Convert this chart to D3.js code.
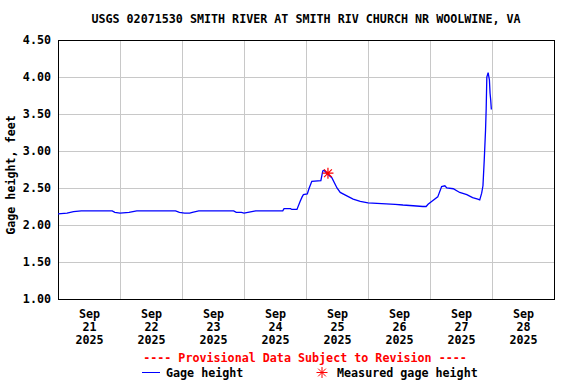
<!DOCTYPE html>
<html>
<head>
<meta charset="utf-8">
<script src="https://cdn.jsdelivr.net/npm/d3@7"></script>
<style>
  body { margin: 0; background: #fff; }
  text { font-family: "DejaVu Sans Mono", monospace; font-weight: bold; font-size: 11.7px; }
</style>
</head>
<body>
<div id="chart"></div>
<script>
// data
const title = 'USGS 02071530 SMITH RIVER AT SMITH RIV CHURCH NR WOOLWINE, VA'
const times = [
  '2025-09-21 00:00', '2025-09-21 03:30', '2025-09-21 06:00', '2025-09-21 09:00', '2025-09-21 21:00',
  '2025-09-21 22:00', '2025-09-22 00:00', '2025-09-22 03:30', '2025-09-22 06:30', '2025-09-22 21:30',
  '2025-09-22 23:00', '2025-09-23 01:00', '2025-09-23 03:00', '2025-09-23 04:00', '2025-09-23 06:30',
  '2025-09-23 20:00', '2025-09-23 21:00', '2025-09-23 23:00', '2025-09-24 00:00', '2025-09-24 01:30',
  '2025-09-24 04:30', '2025-09-24 15:00', '2025-09-24 15:30', '2025-09-24 18:00', '2025-09-24 18:30',
  '2025-09-24 20:30', '2025-09-24 21:45', '2025-09-24 22:30', '2025-09-24 23:00', '2025-09-25 00:30',
  '2025-09-25 01:15', '2025-09-25 02:15', '2025-09-25 05:45', '2025-09-25 06:30', '2025-09-25 07:00',
  '2025-09-25 08:00', '2025-09-25 10:00', '2025-09-25 12:00', '2025-09-25 13:15', '2025-09-25 16:00',
  '2025-09-25 18:15', '2025-09-25 21:00', '2025-09-26 00:00', '2025-09-26 10:30', '2025-09-26 13:30',
  '2025-09-26 17:30', '2025-09-26 21:15', '2025-09-26 22:30', '2025-09-26 23:15', '2025-09-27 00:45',
  '2025-09-27 03:00', '2025-09-27 04:30', '2025-09-27 05:45', '2025-09-27 06:30', '2025-09-27 09:00',
  '2025-09-27 11:30', '2025-09-27 14:15', '2025-09-27 16:30', '2025-09-27 18:30', '2025-09-27 19:15',
  '2025-09-27 20:00', '2025-09-27 20:30', '2025-09-27 21:00', '2025-09-27 21:30', '2025-09-27 21:45',
  '2025-09-27 22:00', '2025-09-27 22:30', '2025-09-27 23:00', '2025-09-27 23:15', '2025-09-27 23:30',
  '2025-09-27 23:45'
]
const gage = [
  2.15, 2.16, 2.18, 2.19, 2.19,
  2.17, 2.16, 2.17, 2.19, 2.19,
  2.17, 2.16, 2.16, 2.17, 2.19,
  2.19, 2.17, 2.17, 2.16, 2.17,
  2.19, 2.19, 2.22, 2.22, 2.21,
  2.21, 2.32, 2.38, 2.41, 2.42,
  2.50, 2.59, 2.60, 2.73, 2.74,
  2.70, 2.64, 2.50, 2.44, 2.39,
  2.35, 2.32, 2.30, 2.28, 2.27,
  2.26, 2.25, 2.25, 2.28, 2.32,
  2.38, 2.52, 2.53, 2.50, 2.49,
  2.44, 2.41, 2.37, 2.35, 2.34,
  2.43, 2.53, 2.88, 3.28, 3.57,
  4.00, 4.06, 3.96, 3.78, 3.69,
  3.56
]
const measuredTimes = ['2025-09-25 08:30']
const measuredValues = [2.70]
const dayTicks = ['2025-09-21', '2025-09-22', '2025-09-23', '2025-09-24', '2025-09-25', '2025-09-26', '2025-09-27', '2025-09-28']
const yTicks = [1.0, 1.5, 2.0, 2.5, 3.0, 3.5, 4.0, 4.5]

// const
const width = 576
const height = 384
const margin = { top: 40, right: 22, bottom: 85, left: 58 }
const parseTime = d3.utcParse('%Y-%m-%d %H:%M')
const parseDay = d3.utcParse('%Y-%m-%d')

const series = times.map((t, i) => ({ t: parseTime(t), v: gage[i] }))
const measured = measuredTimes.map((t, i) => ({ t: parseTime(t), v: measuredValues[i] }))

// svg
const svg = d3.select('#chart')
  .append('svg')
  .attr('width', width)
  .attr('height', height)

const x = d3.scaleUtc()
  .domain([parseDay('2025-09-21'), parseDay('2025-09-29')])
  .range([margin.left, width - margin.right])
const y = d3.scaleLinear()
  .domain([1, 4.5])
  .range([height - margin.bottom, margin.top])

// grid
svg.append('g')
  .attr('transform', `translate(0, ${height - margin.bottom})`)
  .call(d3.axisBottom(x).tickValues(d3.utcDay.range(parseDay('2025-09-22'), parseDay('2025-09-29')))
    .tickSize(-(height - margin.top - margin.bottom)).tickFormat(''))
  .call(g => g.select('.domain').remove())
  .call(g => g.selectAll('line').attr('stroke', '#c8c8c8').attr('shape-rendering', 'crispEdges'))
svg.append('g')
  .attr('transform', `translate(${margin.left}, 0)`)
  .call(d3.axisLeft(y).tickValues(yTicks).tickSize(-(width - margin.left - margin.right)).tickFormat(''))
  .call(g => g.select('.domain').remove())
  .call(g => g.selectAll('line').attr('stroke', '#c8c8c8').attr('shape-rendering', 'crispEdges'))

// frame
svg.append('rect')
  .attr('x', margin.left)
  .attr('y', margin.top)
  .attr('width', width - margin.left - margin.right)
  .attr('height', height - margin.top - margin.bottom)
  .attr('fill', 'none')
  .attr('stroke', '#000')
  .attr('shape-rendering', 'crispEdges')

// y axis labels
svg.append('g')
  .attr('transform', `translate(${margin.left - 7}, 0)`)
  .call(d3.axisLeft(y).tickValues(yTicks).tickSize(0).tickPadding(0).tickFormat(d3.format('.2f')))
  .call(g => g.select('.domain').remove())
  .call(g => g.selectAll('text').attr('fill', '#000').style('font-size', '11.7px')
    .style('font-family', '"DejaVu Sans Mono", monospace').style('font-weight', 'bold'))

// x axis labels (three lines)
const xl = svg.append('g')
  .attr('transform', `translate(0, ${height - margin.bottom})`)
  .call(d3.axisBottom(x).tickValues(dayTicks.map(d => d3.utcHour.offset(parseDay(d), 12))).tickSize(0).tickFormat(''))
  .call(g => g.select('.domain').remove())
xl.selectAll('.tick text')
  .attr('y', 0).attr('dy', null)
  .each(function(d) {
    const t = d3.select(this)
    ;[d3.utcFormat('%b')(d), d3.utcFormat('%d')(d), d3.utcFormat('%Y')(d)].forEach((s, i) => {
      t.append('tspan').attr('x', 0).attr('y', 19 + i * 13).text(s)
    })
  })
  .attr('fill', '#000').style('font-size', '11.7px')
  .style('font-family', '"DejaVu Sans Mono", monospace').style('font-weight', 'bold')

// title
svg.append('text')
  .attr('x', (margin.left + width - margin.right) / 2)
  .attr('y', 23)
  .attr('text-anchor', 'middle')
  .text(title)

// y title
svg.append('text')
  .attr('transform', `translate(15, 175) rotate(-90)`)
  .attr('text-anchor', 'middle')
  .text('Gage height, feet')

// line
const line = d3.line().x(d => x(d.t)).y(d => y(d.v))
svg.append('path')
  .datum(series)
  .attr('fill', 'none')
  .attr('stroke', '#0000ff')
  .attr('stroke-width', 1.3)
  .attr('d', line)

// star marker
function star(r) {
  const p = d3.path()
  for (let k = 0; k < 4; k++) {
    const a = k * Math.PI / 4
    p.moveTo(-r * Math.cos(a), -r * Math.sin(a))
    p.lineTo(r * Math.cos(a), r * Math.sin(a))
  }
  return p.toString()
}
svg.selectAll('.meas')
  .data(measured)
  .join('path')
  .attr('class', 'meas')
  .attr('transform', d => `translate(${x(d.t)}, ${y(d.v)})`)
  .attr('d', star(5.5))
  .attr('stroke', '#ff0000')
  .attr('stroke-width', 1.2)
  .attr('fill', 'none')

// legend
svg.append('text')
  .attr('x', 305)
  .attr('y', 362)
  .attr('text-anchor', 'middle')
  .attr('fill', '#ff0000')
  .text('---- Provisional Data Subject to Revision ----')
const lg = svg.append('g')
lg.append('line')
  .attr('x1', 142).attr('x2', 160)
  .attr('y1', 372.5).attr('y2', 372.5)
  .attr('stroke', '#0000ff')
lg.append('text').attr('x', 166).attr('y', 377).text('Gage height')
lg.append('path')
  .attr('transform', 'translate(322, 372.5)')
  .attr('d', star(5.5))
  .attr('stroke', '#ff0000')
  .attr('fill', 'none')
lg.append('text').attr('x', 337).attr('y', 377).text('Measured gage height')
</script>
</body>
</html>
